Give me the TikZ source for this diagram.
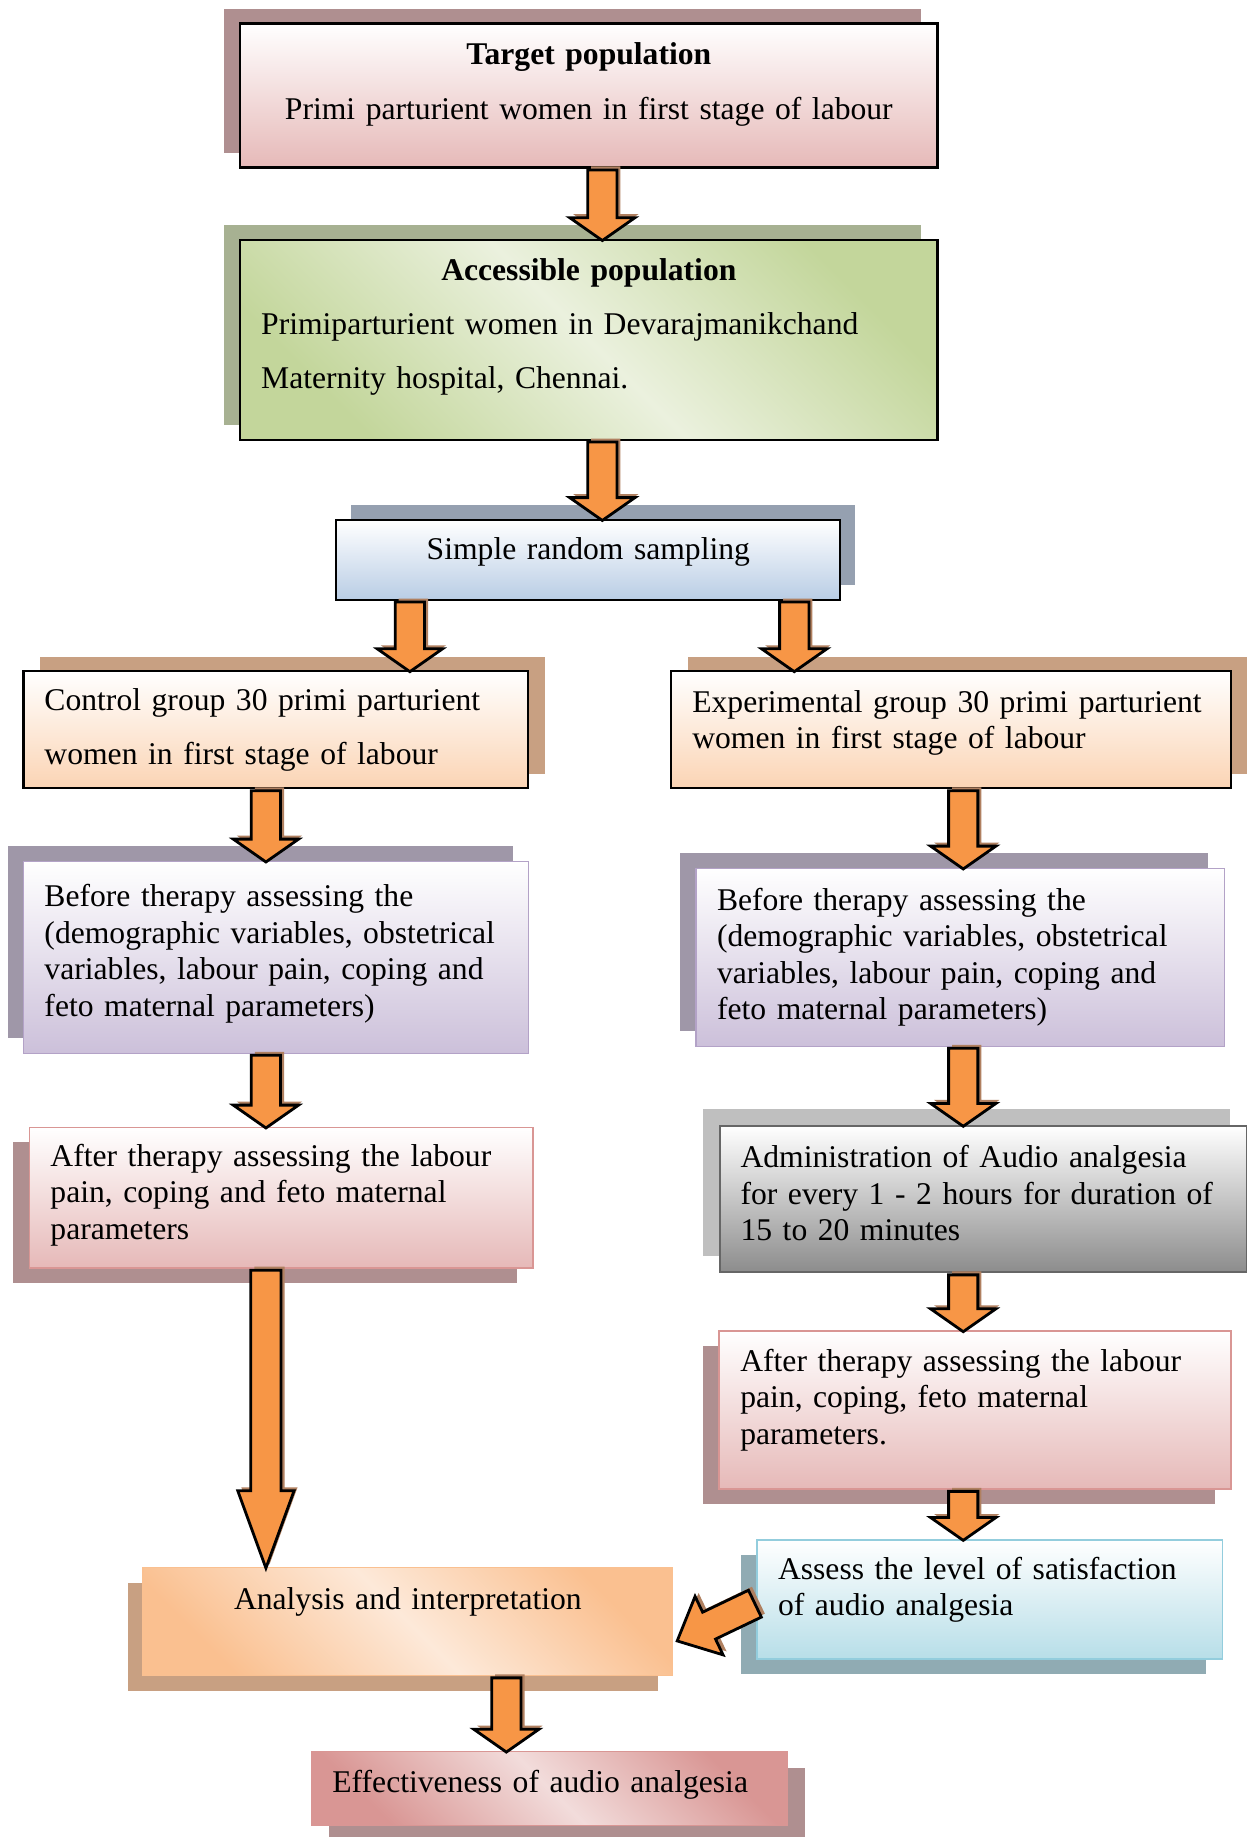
\documentclass[tikz,border=0pt]{standalone}
\usepackage{fontspec}
\setmainfont{Liberation Serif}
\usepackage{tikz}
\usetikzlibrary{calc,shapes.arrows,shadows}

\definecolor{arrowfill}{HTML}{F79646}
\definecolor{arrowshade}{HTML}{B08060}
\definecolor{rosefill}{HTML}{E6B9B8}
\definecolor{roseline}{HTML}{D99694}
\definecolor{roseshade}{HTML}{AF8F90}
\definecolor{pinklight}{HTML}{F2DCDB}
\definecolor{greenfill}{HTML}{C3D69B}
\definecolor{greenlight}{HTML}{EBF1DE}
\definecolor{greenshade}{HTML}{A7B192}
\definecolor{bluefill}{HTML}{B9CDE5}
\definecolor{blueshade}{HTML}{95A0B0}
\definecolor{peachfill}{HTML}{FBD4B4}
\definecolor{peachshade}{HTML}{C8A082}
\definecolor{lilacfill}{HTML}{CCC0DA}
\definecolor{lilacline}{HTML}{B3A2C7}
\definecolor{lilacshade}{HTML}{9F97A8}
\definecolor{greyfill}{HTML}{8C8C8C}
\definecolor{greyline}{HTML}{666666}
\definecolor{greyshade}{HTML}{BFBFBF}
\definecolor{aquafill}{HTML}{B7DEE8}
\definecolor{aqualine}{HTML}{93CDDD}
\definecolor{aquashade}{HTML}{90ABB3}
\definecolor{orangefill}{HTML}{FAC090}
\definecolor{orangelight}{HTML}{FDE9D9}

\tikzset{
	box/.style={rectangle, draw=black, line width=1.2pt, inner xsep=0.42cm, inner ysep=0pt, align=left, font=\fontsize{18}{20.7}\selectfont},
	wide lines/.style={font=\fontsize{18}{31}\selectfont},
	boxsize/.style n args={3}{minimum width=#1cm, minimum height=#2cm, text width=#3cm},
	lift/.style={execute at end node={\par\vspace*{#1cm}}},
	backdrop/.style n args={3}{drop shadow={shadow xshift=#1, shadow yshift=#2, fill=#3, opacity=1}},
	fatarrow/.style={single arrow, draw=black, line width=1.6pt, fill=arrowfill, inner xsep=0pt, inner ysep=0.265cm, single arrow head extend=0.36cm, single arrow tip angle=110, drop shadow={shadow xshift=0.07cm, shadow yshift=0.07cm, fill=arrowshade, opacity=1}},
}

\newcommand{\flowarrow}[3][]{%
	\path let \p1 = #2, \p2 = #3,
		\n1 = {veclen(\x2-\x1, \y2-\y1)}, \n2 = {atan2(\y2-\y1, \x2-\x1)} in
		node[fatarrow, #1, minimum height=\n1, rotate=\n2, anchor=tail] at (\p1) {};}

\begin{document}
\begin{tikzpicture}
	\useasboundingbox (0, 0) rectangle (24.94, -36.75);
	\node[box, wide lines, align=center, boxsize={13.95}{2.88}{13.11}, lift=0.45, top color=white, bottom color=rosefill, backdrop={-0.33cm}{0.28cm}{roseshade}] at (11.78, -1.91) (target)
		{\textbf{Target population}\\Primi parturient women in first stage of labour};
	\node[box, wide lines, boxsize={13.95}{3.99}{13.11}, lift=0.52, top color=greenfill, bottom color=greenfill, middle color=greenlight, shading angle=-45, backdrop={-0.33cm}{0.30cm}{greenshade}] at (11.78, -6.80) (access)
		{\hfill\textbf{Accessible population}\hfill\null\\Primiparturient women in Devarajmanikchand\\Maternity hospital, Chennai.};
	\node[box, align=center, boxsize={10.08}{1.59}{9.24}, lift=0.32, top color=white, bottom color=bluefill, backdrop={0.30cm}{0.30cm}{blueshade}] at (11.77, -11.20) (sampling)
		{Simple random sampling};
	\node[box, wide lines, boxsize={10.10}{2.34}{9.26}, top color=white, bottom color=peachfill, backdrop={0.33cm}{0.28cm}{peachshade}] at (5.52, -14.60) (control)
		{Control group 30 primi parturient\\women in first stage of labour};
	\node[box, boxsize={11.20}{2.34}{10.36}, lift=0.28, top color=white, bottom color=peachfill, backdrop={0.33cm}{0.28cm}{peachshade}] at (19.03, -14.60) (experiment)
		{Experimental group 30 primi parturient\\women in first stage of labour};
	\node[box, draw=lilacline, line width=0.8pt, boxsize={10.10}{3.84}{9.26}, lift=0.14, top color=white, bottom color=lilacfill, backdrop={-0.30cm}{0.30cm}{lilacshade}] at (5.52, -19.15) (prectrl)
		{Before therapy assessing the\\(demographic variables, obstetrical\\variables, labour pain, coping and\\feto maternal parameters)};
	\node[box, draw=lilacline, line width=0.8pt, boxsize={10.57}{3.56}{9.73}, top color=white, bottom color=lilacfill, backdrop={-0.33cm}{0.30cm}{lilacshade}] at (19.21, -19.15) (preexp)
		{Before therapy assessing the\\(demographic variables, obstetrical\\variables, labour pain, coping and\\feto maternal parameters)};
	\node[box, draw=roseline, line width=1pt, boxsize={10.08}{2.81}{9.24}, lift=0.10, top color=white, bottom color=rosefill, backdrop={-0.33cm}{-0.30cm}{roseshade}] at (5.63, -23.96) (postctrl)
		{After therapy assessing the labour\\pain, coping and feto maternal\\parameters};
	\node[box, draw=greyline, boxsize={10.55}{2.93}{9.71}, lift=0.24, top color=white, bottom color=greyfill, backdrop={-0.33cm}{0.33cm}{greyshade}] at (19.67, -23.99) (audio)
		{Administration of Audio analgesia\\for every 1 - 2 hours for duration of\\15 to 20 minutes};
	\node[box, draw=roseline, line width=1pt, boxsize={10.24}{3.16}{9.40}, lift=0.40, top color=white, bottom color=rosefill, backdrop={-0.33cm}{-0.30cm}{roseshade}] at (19.51, -28.21) (postexp)
		{After therapy assessing the labour\\pain, coping, feto maternal\\parameters.};
	\node[box, draw=aqualine, line width=1pt, boxsize={9.31}{2.39}{8.47}, lift=0.38, top color=white, bottom color=aquafill, backdrop={-0.33cm}{-0.30cm}{aquashade}] at (19.80, -32.00) (satisfy)
		{Assess the level of satisfaction\\of audio analgesia};
	\node[box, draw=orangefill, line width=1pt, align=center, boxsize={10.59}{2.16}{9.75}, lift=0.78, top color=orangefill, bottom color=orangefill, middle color=orangelight, shading angle=-45, backdrop={-0.30cm}{-0.30cm}{peachshade}] at (8.16, -32.44) (analysis)
		{Analysis and interpretation};
	\node[box, draw=roseline, line width=1pt, boxsize={9.52}{1.48}{8.68}, lift=0.14, top color=roseline, bottom color=roseline, middle color=pinklight, shading angle=-45, backdrop={0.35cm}{-0.33cm}{roseshade}] at (10.99, -35.78) (effect)
		{Effectiveness of audio analgesia};

	\flowarrow{([xshift=0.27cm]target.south)}{([xshift=0.27cm]access.north)}
	\flowarrow{([xshift=0.27cm]access.south)}{([xshift=0.28cm]sampling.north)}
	\flowarrow{([xshift=-3.57cm]sampling.south)}{([xshift=2.68cm]control.north)}
	\flowarrow{([xshift=4.12cm]sampling.south)}{([xshift=-3.14cm]experiment.north)}
	\flowarrow{([xshift=-0.20cm]control.south)}{([xshift=-0.20cm]prectrl.north)}
	\flowarrow{([xshift=0.24cm]experiment.south)}{([xshift=0.06cm]preexp.north)}
	\flowarrow{([xshift=-0.20cm]prectrl.south)}{([xshift=-0.31cm]postctrl.north)}
	\flowarrow{([xshift=0.06cm]preexp.south)}{([xshift=-0.40cm]audio.north)}
	\flowarrow{([xshift=-0.40cm]audio.south)}{([xshift=-0.24cm]postexp.north)}
	\flowarrow{([xshift=-0.24cm]postexp.south)}{([xshift=-0.53cm]satisfy.north)}
	\flowarrow[inner ysep=0.275cm, single arrow head extend=0.26cm, single arrow tip angle=40]{([xshift=-0.31cm]postctrl.south)}{([xshift=-2.84cm]analysis.north)}
	\flowarrow[inner ysep=0.27cm, single arrow head extend=0.35cm, single arrow tip angle=85]{([yshift=-0.07cm]satisfy.west)}{([xshift=0.1cm, yshift=-0.375cm]analysis.east)}
	\flowarrow{([xshift=1.97cm]analysis.south)}{([xshift=-0.86cm]effect.north)}
\end{tikzpicture}
\end{document}
